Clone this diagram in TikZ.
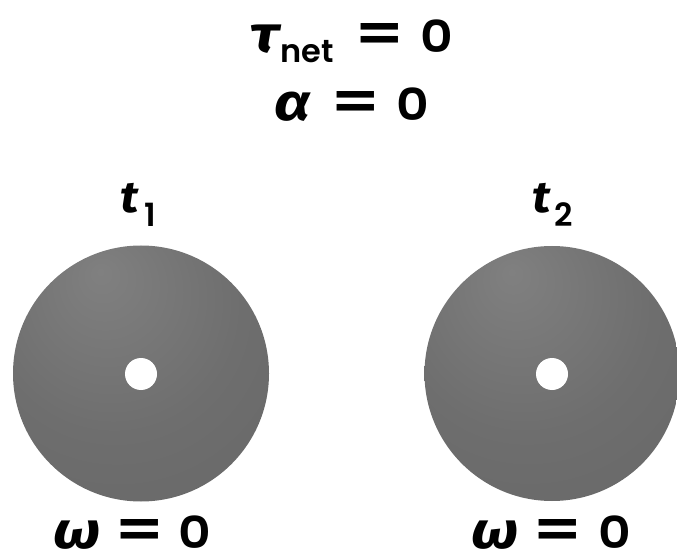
\documentclass[tikz,border=0pt]{standalone}
\usepackage{fontspec}
\usepackage{graphicx}
\setmainfont{Poppins}[BoldFont={Poppins SemiBold}]
\newfontfamily\grk{Fira Sans}
\definecolor{diskhi}{RGB}{128,128,128}
\definecolor{diskmid}{RGB}{110,110,110}
\definecolor{disklo}{RGB}{100,100,100}
\definecolor{diskedge}{RGB}{84,84,84}
\pgfdeclareradialshading{diskshade}{\pgfpoint{-8bp}{20bp}}{%
  color(0bp)=(diskhi); color(25bp)=(diskmid); color(55bp)=(disklo); color(72bp)=(diskedge)}
\tikzset{
  lbl/.style={anchor=base west, inner sep=0pt, font=\bfseries\fontsize{44}{44}\selectfont},
  disk/.style={shading=diskshade},
  hole/.style={fill=white, draw=none}
}
\newcommand{\gk}[1]{{\grk\bfseries\itshape\fontsize{52}{52}\selectfont\scalebox{1.2}[1]{#1}}}
\newcommand{\tee}{{\grk\bfseries\itshape\fontsize{44}{44}\selectfont\scalebox{1.1}[1]{t}}}
\newcommand{\eqsign}{\makebox[0pt][c]{\fontsize{54}{54}\selectfont\scalebox{1.27}[1]{=}}}
\newcommand{\zero}{\scalebox{1.15}[1]{0}}
\newcommand{\subf}{\fontsize{32}{32}\selectfont}
\begin{document}
\begin{tikzpicture}[x=1pt,y=-1pt]
\useasboundingbox (0,0) rectangle (677,553);
% disks
\shade[disk] (141,373.5) circle (128);
\fill[hole] (141,374) circle (16);
\shade[disk] (552,373.5) circle (127.5);
\fill[hole] (552,374) circle (16);
% labels
\node[lbl] (tau) at (250,53) {\makebox[129.5pt][l]{\makebox[30pt][l]{\gk{τ}}\raisebox{-10pt}{\subf net}}\eqsign\hspace{40.5pt}\zero};
\node[lbl] (alpha) at (274,121) {\makebox[81.5pt][l]{\gk{α}}\eqsign\hspace{40.5pt}\zero};
\node[lbl] (t1) at (120,213) {\makebox[24pt][l]{\tee}\raisebox{-14pt}{\subf 1}};
\node[lbl] (t2) at (532,213) {\makebox[22pt][l]{\tee}\raisebox{-14pt}{\subf 2}};
\node[lbl] (w1) at (53,548) {\makebox[86.5pt][l]{\gk{ω}}\eqsign\hspace{38.5pt}\zero};
\node[lbl] (w2) at (471,548) {\makebox[86.5pt][l]{\gk{ω}}\eqsign\hspace{40.5pt}\zero};
\end{tikzpicture}
\end{document}
